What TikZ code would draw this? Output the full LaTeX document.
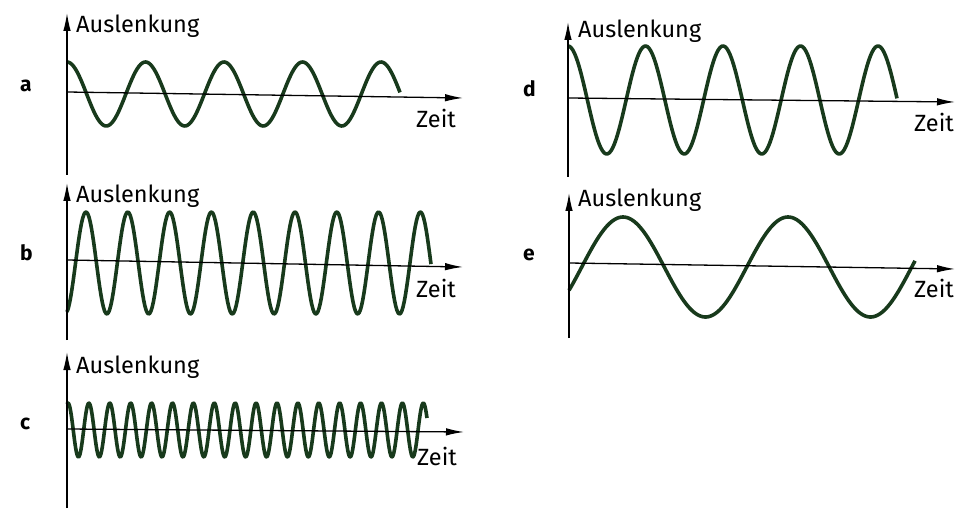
\documentclass[tikz,border=0pt]{standalone}
\usepackage{fontspec}
\setmainfont{Fira Sans}
\usetikzlibrary{arrows.meta}
\definecolor{wellgruen}{RGB}{24,58,28}
\tikzset{
	achse/.style={line width=1.3pt, -{Latex[length=18pt,width=7.5pt]}},
	welle/.style={line width=3.6pt, wellgruen, line join=round},
	beschr/.style={font=\fontsize{23.5}{25}\selectfont, inner sep=0pt, anchor=base west},
	buchst/.style={font=\fontsize{21}{23}\selectfont\bfseries, inner sep=0pt, anchor=base west}
}
\begin{document}
\begin{tikzpicture}[x=1pt,y=-1pt]
			\useasboundingbox (0,0) rectangle (976,526);
			\draw[welle] plot[domain=67:400, samples=200] (\x,{94-32*cos((\x-67)/78.5*360)});
			\draw[achse] (67,175) -- (67,13);
			\draw[achse] (67,92) -- (463,98);
			\node[beschr] (ausl-a) at (76,33) {Auslenkung};
			\node[beschr] (zeit-a) at (416,128) {Zeit};
			\node[buchst] (a) at (20,92) {a};

			\draw[welle] plot[domain=67:431, samples=300] (\x,{263-51*cos((\x-86)/41.8*360)});
			\draw[achse] (67,340) -- (67,183);
			\draw[achse] (67,260) -- (463,267);
			\node[beschr] (ausl-b) at (76,203) {Auslenkung};
			\node[beschr] (zeit-b) at (416,298) {Zeit};
			\node[buchst] (b) at (20,261) {b};

			\draw[welle] plot[domain=67:427, samples=500] (\x,{430-27*cos((\x-68)/20.9*360)});
			\draw[achse] (67,508) -- (67,352);
			\draw[achse] (67,429) -- (464,432);
			\node[beschr] (ausl-c) at (76,373) {Auslenkung};
			\node[beschr] (zeit-c) at (417,465) {Zeit};
			\node[buchst] (c) at (20,429) {c};

			\draw[welle] plot[domain=568:897, samples=200] (\x,{100-54*cos((\x-568)/77.5*360)});
			\draw[achse] (568,177) -- (568,22);
			\draw[achse] (568,98) -- (955,102);
			\node[beschr] (ausl-d) at (578,38) {Auslenkung};
			\node[beschr] (zeit-d) at (914,132) {Zeit};
			\node[buchst] (d) at (523,97) {d};

			\draw[welle] plot[domain=569:915, samples=200] (\x,{267-50*cos((\x-623)/165*360)});
			\draw[achse] (569,338) -- (569,193);
			\draw[achse] (569,263) -- (955,269);
			\node[beschr] (ausl-e) at (578,207) {Auslenkung};
			\node[beschr] (zeit-e) at (914,298) {Zeit};
			\node[buchst] (e) at (523,261) {e};
		\end{tikzpicture}
\end{document}
